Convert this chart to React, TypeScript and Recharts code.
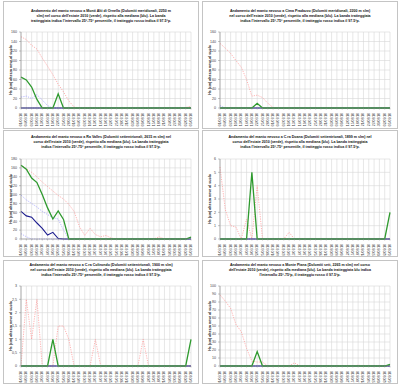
import React from 'react';
import { LineChart, Line, XAxis, YAxis, CartesianGrid } from 'recharts';

const dates = [
  '01/06/10', '04/06/10', '07/06/10', '10/06/10', '13/06/10', '16/06/10', '19/06/10',
  '22/06/10', '25/06/10', '28/06/10', '01/07/10', '04/07/10', '07/07/10', '10/07/10',
  '13/07/10', '16/07/10', '19/07/10', '22/07/10', '25/07/10', '28/07/10', '31/07/10',
  '03/08/10', '06/08/10', '09/08/10', '12/08/10', '15/08/10', '18/08/10', '21/08/10',
  '24/08/10', '27/08/10', '30/08/10', '02/09/10', '05/09/10',
];

const zeros = [0, 0, 0, 0, 0, 0, 0, 0, 0, 0, 0, 0, 0, 0, 0, 0, 0, 0, 0, 0, 0, 0, 0, 0, 0, 0, 0, 0, 0, 0, 0, 0, 0];

// Monti Alti di Ornella
const ornellaP975 = [150, 144, 132, 124, 105, 88, 70, 50, 34, 15, 2, 0, 0, 0, 0, 0, 0, 0, 0, 0, 0, 0, 0, 0, 0, 0, 0, 0, 0, 0, 0, 1, 4];
const ornellaP75 = [23, 25, 20, 28, 17, 5, 0, 0, 0, 0, 0, 0, 0, 0, 0, 0, 0, 0, 0, 0, 0, 0, 0, 0, 0, 0, 0, 0, 0, 0, 0, 0, 0];
const ornella2010 = [65, 59, 44, 18, 0, 0, 0, 30, 0, 0, 0, 0, 0, 0, 0, 0, 0, 0, 0, 0, 0, 0, 0, 0, 0, 0, 0, 0, 0, 0, 0, 0, 0];

// Cima Pradazzo
const pradazzoP975 = [136, 126, 115, 100, 86, 60, 25, 27, 22, 10, 1, 0, 0, 0, 0, 0, 0, 0, 0, 0, 0, 0, 0, 0, 0, 0, 0, 0, 0, 0, 0, 0, 0];
const pradazzoP75 = [5, 0, 0, 0, 0, 0, 0, 0, 0, 0, 0, 0, 0, 0, 0, 0, 0, 0, 0, 0, 0, 0, 0, 0, 0, 0, 0, 0, 0, 0, 0, 0, 0];
const pradazzo2010 = [0, 0, 0, 0, 0, 0, 0, 10, 0, 0, 0, 0, 0, 0, 0, 0, 0, 0, 0, 0, 0, 0, 0, 0, 0, 0, 0, 0, 0, 0, 0, 0, 0];

// Ra Valles
const vallesP975 = [166, 158, 150, 140, 128, 118, 108, 98, 90, 78, 62, 28, 8, 24, 10, 5, 8, 2, 0, 0, 0, 0, 0, 0, 0, 0, 5, 0, 0, 0, 0, 0, 0];
const vallesP75 = [99, 88, 80, 72, 62, 55, 48, 45, 20, 0, 0, 0, 0, 0, 0, 0, 0, 0, 0, 0, 0, 0, 0, 0, 0, 0, 0, 0, 0, 0, 0, 0, 0];
const vallesP25 = [12, 5, 0, 0, 0, 0, 0, 0, 0, 0, 0, 0, 0, 0, 0, 0, 0, 0, 0, 0, 0, 0, 0, 0, 0, 0, 0, 0, 0, 0, 0, 0, 0];
const vallesMed = [62, 52, 49, 36, 24, 9, 15, 1, 0, 0, 0, 0, 0, 0, 0, 0, 0, 0, 0, 0, 0, 0, 0, 0, 0, 0, 0, 0, 0, 0, 0, 0, 0];
const valles2010 = [166, 157, 137, 127, 100, 70, 45, 63, 44, 0, 0, 0, 0, 0, 0, 0, 0, 0, 0, 0, 0, 0, 0, 0, 0, 0, 0, 0, 0, 0, 0, 0, 4];

// C.ra Doana
const doanaP975 = [5.4, 2.2, 1.0, 0.9, 0, 1.5, 0, 4, 0, 0, 0, 0, 0, 0.5, 0, 0, 0, 0, 0, 0, 0, 0, 0, 0, 0, 0, 0, 0, 0, 0, 0, 0, 0];
const doana2010 = [0, 0, 0, 0, 0, 0, 5, 0, 0, 0, 0, 0, 0, 0, 0, 0, 0, 0, 0, 0, 0, 0, 0, 0, 0, 0, 0, 0, 0, 0, 0, 0, 2];

// C.ra Coltrondo
const coltrondoP975 = [0, 2.5, 1, 2.5, 0, 0, 0, 1.5, 1.5, 1, 0, 0, 0, 0, 1, 0, 0, 0, 0, 0, 0, 0, 0, 1, 0, 0, 0, 0, 0, 0, 0, 0, 0];
const coltrondo2010 = [0, 0, 0, 0, 0, 0, 1, 0, 0, 0, 0, 0, 0, 0, 0, 0, 0, 0, 0, 0, 0, 0, 0, 0, 0, 0, 0, 0, 0, 0, 0, 0, 1];

// Monte Piana
const pianaP975 = [89, 81, 72, 52, 43, 22, 6, 5, 5, 0, 0, 0, 0, 0, 4, 0, 0, 0, 0, 0, 0, 0, 0, 0, 0, 0, 1, 0, 0, 0, 0, 0, 0];
const piana2010 = [0, 0, 0, 0, 0, 0, 0, 18, 0, 0, 0, 0, 0, 0, 0, 0, 0, 0, 0, 0, 0, 0, 0, 0, 0, 0, 0, 0, 0, 0, 0, 0, 2];

const ticks160 = [0, 20, 40, 60, 80, 100, 120, 140, 160];
const ticks180 = [0, 20, 40, 60, 80, 100, 120, 140, 160, 180];
const ticks6 = [0, 1, 2, 3, 4, 5, 6];
const ticks3 = [0, 0.5, 1, 1.5, 2, 2.5, 3];
const ticks100 = [0, 10, 20, 30, 40, 50, 60, 70, 80, 90, 100];

// layout per row: panel top, panel height, title top, plot top/bottom (inside the frame)
const rows3 = [
  { y: 1, h: 128, titleTop: 7, plotTop: 30, plotBottom: 106 },
  { y: 130, h: 127, titleTop: 4, plotTop: 28, plotBottom: 108 },
  { y: 260, h: 124, titleTop: 2, plotTop: 25, plotBottom: 105 },
];

const panels = [
  {
    x: 3, row: 0, ticks: ticks160, p975: ornellaP975, p75: ornellaP75, p25: zeros, med: zeros, y2010: ornella2010,
    title: [
      'Andamento del manto nevoso a Monti Alti di Ornella (Dolomiti meridionali, 2250 m',
      "slm) nel corso dell'estate 2010 (verde), rispetto alla mediana (blu). La banda",
      "tratteggiata indica l'intervallo 25°-75° percentile, il tratteggio rosso indica il 97.5°p.",
    ],
  },
  {
    x: 202, row: 0, ticks: ticks160, p975: pradazzoP975, p75: pradazzoP75, p25: zeros, med: zeros, y2010: pradazzo2010,
    title: [
      'Andamento del manto nevoso a Cima Pradazzo (Dolomiti meridionali, 2200 m slm)',
      "nel corso dell'estate 2010 (verde), rispetto alla mediana (blu). La banda tratteggiata",
      "indica l'intervallo 25°-75° percentile, il tratteggio rosso indica il 97.5°p.",
    ],
  },
  {
    x: 3, row: 1, ticks: ticks180, p975: vallesP975, p75: vallesP75, p25: vallesP25, med: vallesMed, y2010: valles2010,
    title: [
      'Andamento del manto nevoso a Ra Valles (Dolomiti settentrionali, 2615 m slm) nel',
      "corso dell'estate 2010 (verde), rispetto alla mediana (blu). La banda tratteggiata",
      "indica l'intervallo 25°-75° percentile, il tratteggio rosso indica il 97.5°p.",
    ],
  },
  {
    x: 202, row: 1, ticks: ticks6, p975: doanaP975, p75: zeros, p25: zeros, med: zeros, y2010: doana2010,
    title: [
      'Andamento del manto nevoso a C.ra Doana (Dolomiti settentrionali, 1899 m slm) nel',
      "corso dell'estate 2010 (verde), rispetto alla mediana (blu). La banda tratteggiata",
      "indica l'intervallo 25°-75° percentile, il tratteggio rosso indica il 97.5°p.",
    ],
  },
  {
    x: 3, row: 2, ticks: ticks3, p975: coltrondoP975, p75: zeros, p25: zeros, med: zeros, y2010: coltrondo2010,
    title: [
      'Andamento del manto nevoso a C.ra Coltrondo (Dolomiti settentrionali, 1900 m slm)',
      "nel corso dell'estate 2010 (verde), rispetto alla mediana (blu). La banda tratteggiata",
      "indica l'intervallo 25°-75° percentile, il tratteggio rosso indica il 97.5°p.",
    ],
  },
  {
    x: 202, row: 2, ticks: ticks100, p975: pianaP975, p75: zeros, p25: zeros, med: zeros, y2010: piana2010,
    title: [
      'Andamento del manto nevoso a Monte Piana (Dolomiti sett, 2265 m slm) nel corso',
      "dell'estate 2010 (verde), rispetto alla mediana (blu). La banda tratteggiata blu indica",
      "l'intervallo 25°-75°p, il tratteggio rosso il 97.5°p.",
    ],
  },
];

const W = 196;
const FONT = 'Arial, "Liberation Sans", sans-serif';

const DateTick = (props: any) => {
  const { x, y, payload } = props;
  return (
    <text
      x={x}
      y={y + 1.5}
      transform={`rotate(-90, ${x}, ${y + 1.5})`}
      textAnchor="end"
      dominantBaseline="central"
      fontSize={3.4}
      fill="#444"
    >
      {payload.value}
    </text>
  );
};

const Panel = ({ p }: { p: any }) => {
  const lay = rows3[p.row];
  const rows = dates.map((d, i) => ({
    d,
    p975: p.p975[i],
    p75: p.p75[i],
    p25: p.p25[i],
    med: p.med[i],
    y2010: p.y2010[i],
  }));
  const top = p.ticks[p.ticks.length - 1];
  const chartH = lay.h - 2;
  return (
    <div
      style={{
        position: 'absolute',
        left: p.x,
        top: lay.y,
        width: W,
        height: lay.h,
        border: '1px solid #c4c4c4',
        boxSizing: 'border-box',
        background: '#fff',
      }}
    >
      <div
        style={{
          position: 'absolute',
          top: lay.titleTop,
          left: 0,
          width: W - 2,
          textAlign: 'center',
          fontFamily: FONT,
          fontWeight: 'bold',
          fontSize: 3.6,
          lineHeight: '4.8px',
          color: '#111',
          whiteSpace: 'nowrap',
        }}
      >
        {p.title.map((t: string, i: number) => (
          <div key={i}>{t}</div>
        ))}
      </div>
      <div style={{ position: 'absolute', top: 0, left: 0 }}>
        <LineChart
          width={W - 2}
          height={chartH}
          data={rows}
          margin={{ top: lay.plotTop, right: 7, left: 0, bottom: 0 }}
          style={{ fontFamily: FONT }}
        >
          <CartesianGrid stroke="#d6d6d6" strokeWidth={0.6} />
          <XAxis
            dataKey="d"
            interval={0}
            height={chartH - lay.plotBottom}
            tick={<DateTick />}
            tickLine={{ stroke: '#888', strokeWidth: 0.5 }}
            tickSize={1.5}
            axisLine={{ stroke: '#888', strokeWidth: 0.6 }}
          />
          <YAxis
            width={17}
            domain={[0, top]}
            ticks={p.ticks}
            interval={0}
            tickSize={2}
            tick={{ fontSize: 3.6, fill: '#444' }}
            tickFormatter={(v: number) => String(v).replace('.', ',')}
            tickLine={{ stroke: '#888', strokeWidth: 0.5 }}
            axisLine={{ stroke: '#888', strokeWidth: 0.6 }}
            label={{
              value: 'Hs (cm) altezza neve al suolo',
              angle: -90,
              position: 'insideLeft',
              offset: 7,
              fontSize: 3.6,
              fontWeight: 'bold',
              fill: '#222',
              style: { textAnchor: 'middle' },
            }}
          />
          <Line dataKey="p975" stroke="#ff9090" strokeWidth={0.7} strokeDasharray="1.2 1.2" dot={false} isAnimationActive={false} />
          <Line dataKey="p75" stroke="#9a9aff" strokeWidth={0.7} strokeDasharray="1.2 1.2" dot={false} isAnimationActive={false} />
          <Line dataKey="p25" stroke="#9a9aff" strokeWidth={0.7} strokeDasharray="1.2 1.2" dot={false} isAnimationActive={false} />
          <Line dataKey="med" stroke="#1c1c8e" strokeWidth={1.1} dot={false} isAnimationActive={false} />
          <Line dataKey="y2010" stroke="#2e9a2e" strokeWidth={1.3} dot={false} isAnimationActive={false} />
        </LineChart>
      </div>
    </div>
  );
};

export default function App() {
  return (
    <div style={{ position: 'fixed', left: 0, top: 0, width: 400, height: 389, background: '#fff' }}>
      {panels.map((p, i) => (
        <Panel key={i} p={p} />
      ))}
    </div>
  );
}
